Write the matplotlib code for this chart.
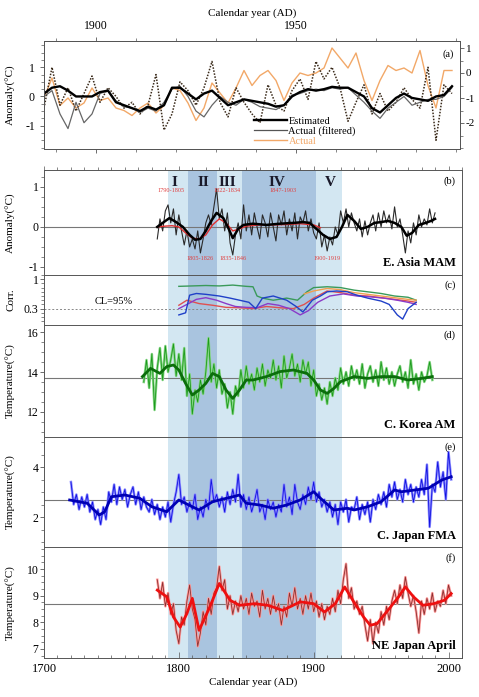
"""
Spring temperature reconstructions for East Asia: 6-panel stack (a)-(f).
"""
import numpy as np
import matplotlib
matplotlib.use("Agg")
import matplotlib.pyplot as plt
from matplotlib.ticker import MultipleLocator
from matplotlib.lines import Line2D

plt.rcParams["font.family"] = ["Liberation Serif", "DejaVu Serif"]
plt.rcParams["font.size"] = 8
plt.rcParams["axes.unicode_minus"] = False

# ── (a) calibration period ───────────────────────────────────────────────────
years_a = np.arange(1887, 1990, 2)
est_a = [0.1, 0.3, 0.35, 0.2, 0.0, 0.0, 0.0, 0.15, 0.2, -0.2,
         -0.3, -0.4, -0.5, -0.35, -0.45, -0.3, 0.3, 0.3, 0.1, -0.1,
         0.1, 0.2, -0.05, -0.3, -0.2, -0.1, -0.15, -0.2, -0.25, -0.35,
         -0.3, 0.0, 0.15, 0.25, 0.2, 0.25, 0.33, 0.3, 0.3, 0.15,
         0.0, -0.4, -0.55, -0.3, -0.05, 0.1, -0.05, -0.1, -0.15, 0.0,
         0.05, 0.35]
filt_a = [0.0, 0.2, -0.6, -1.1, -0.2, -0.9, -0.6, 0.1, 0.2, -0.15,
          -0.35, -0.4, -0.55, -0.4, -0.5, -0.2, 0.25, 0.35, 0.0, -0.5,
          -0.7, -0.3, 0.0, -0.2, -0.3, -0.1, -0.2, -0.35, -0.4, -0.45,
          -0.3, 0.05, 0.1, 0.2, 0.25, 0.2, 0.3, 0.25, 0.3, 0.05,
          -0.2, -0.5, -0.75, -0.4, -0.2, 0.0, -0.3, -0.2, -0.1, -0.1,
          0.0, 0.3]
dot_a = [-0.4, 1.0, -0.3, 0.3, -0.5, 0.1, 0.7, -0.2, 0.3, 0.0,
         -0.4, -0.2, -0.6, -0.3, 0.75, -1.15, -0.6, 0.5, 0.2, -0.3,
         0.3, 1.2, -0.2, -0.7, 0.3, -0.2, -0.6, -0.9, 0.4, -0.3,
         -0.5, 0.2, 0.6, -0.1, 1.2, 0.6, 1.0, 0.3, -0.85, -0.2,
         0.4, -0.6, 0.1, -0.5, -0.2, 0.3, -0.1, -0.4, 1.0, -1.5,
         0.4, 0.1]
actual_a = [-1.0, -0.2, -1.3, -1.0, -1.4, -1.2, -0.6, -1.1, -1.0, -1.4,
            -1.5, -1.7, -1.4, -1.2, -1.6, -1.3, -0.6, -0.7, -1.2, -1.9,
            -1.4, -0.4, -0.8, -1.2, -0.6, 0.1, -0.5, -0.1, 0.1, -0.3,
            -1.1, -0.4, 0.0, -0.1, 0.0, 0.2, 1.0, 0.6, 0.2, 0.8,
            -0.3, -1.1, -0.3, 0.3, 0.1, 0.2, 0.0, 0.9, -0.5, -1.4,
            0.1, 0.1]

# ── (b) E. Asia MAM ──────────────────────────────────────────────────────────
years_b = np.arange(1784, 1991, 2)
easia = [-0.3, 0.2, -0.1, 0.4, 0.55, 0.1, 0.45, -0.2, 0.3, -0.1,
         -0.45, -0.1, -0.5, -0.3, -0.55, -0.1, -0.65, -0.3, 0.1, 0.3,
         0.05, 0.5, 0.95, 0.2, 0.45, -0.1, 0.35, -0.4, -0.7, -0.2,
         0.1, -0.3, 0.55, -0.1, 0.3, -0.2, 0.35, 0.0, -0.3, 0.3,
         0.1, -0.25, 0.35, 0.0, -0.35, 0.3, 0.05, 0.4, -0.2, 0.2,
         -0.1, 0.35, -0.3, 0.25, 0.1, 0.4, -0.1, 0.2, -0.15, -0.3,
         0.1, -0.5, -0.2, -0.6, -0.25, -0.45, 0.0, -0.2, 0.4, 0.1,
         0.45, 0.0, 0.35, 0.1, -0.1, 0.2, -0.25, 0.15, -0.2, 0.1,
         0.3, -0.1, 0.35, 0.0, 0.4, 0.1, 0.3, -0.05, 0.5, 0.0,
         0.2, -0.2, -0.65, -0.1, -0.4, 0.1, -0.2, 0.3, 0.0, 0.2,
         0.05, 0.45, 0.1, 0.35]
years_bs = [1784, 1788, 1793, 1798, 1803, 1808, 1812, 1816, 1820, 1824, 1828,
            1833, 1837, 1840, 1844, 1848, 1855, 1865, 1875, 1885, 1892, 1897,
            1902, 1907, 1912, 1917, 1921, 1925, 1930, 1935, 1940, 1945, 1950,
            1955, 1960, 1965, 1969, 1973, 1978, 1983, 1987, 1990]
easia_s = [0.0, 0.1, 0.22, 0.12, 0.0, -0.2, -0.32, -0.3, -0.1, 0.15, 0.35,
           0.22, -0.05, -0.28, -0.05, 0.05, 0.08, 0.05, 0.08, 0.1, 0.12, 0.1,
           -0.05, -0.2, -0.3, -0.25, 0.0, 0.3, 0.15, -0.05, 0.0, 0.1, 0.12,
           0.15, 0.1, 0.0, -0.22, -0.15, 0.05, 0.1, 0.15, 0.2]
years_br = [1784, 1790, 1795, 1800, 1805, 1810, 1815, 1820, 1825, 1830, 1835,
            1840, 1845, 1850, 1860, 1870, 1880, 1890, 1900, 1905]
easia_red = [0.0, 0.02, 0.03, 0.0, -0.15, -0.28, -0.3, -0.2, 0.05, 0.2, 0.1,
             -0.1, -0.05, 0.02, 0.05, 0.05, 0.06, 0.08, 0.05, -0.02]

periods = [(1792, 1807, "light"), (1807, 1828, "dark"), (1828, 1847, "light"),
           (1847, 1902, "dark"), (1902, 1921, "light")]
roman = ["I", "II", "III", "IV", "V"]
roman_x = [1797, 1818, 1836, 1873, 1912]
warm_labels = ["1790-1805", "1822-1834", "1847-1903"]
warm_x = [1794, 1836, 1877]
cool_labels = ["1805-1826", "1835-1846", "1900-1919"]
cool_x = [1816, 1840, 1910]

# ── (c) running correlations ─────────────────────────────────────────────────
yr_c_green = [1800, 1810, 1820, 1830, 1840, 1850, 1855, 1858, 1862, 1870, 1880,
              1888, 1895, 1900, 1910, 1920, 1930, 1940, 1950, 1960, 1970, 1976]
c_green = [0.83, 0.84, 0.85, 0.84, 0.86, 0.83, 0.82, 0.6, 0.55, 0.5, 0.55,
           0.5, 0.7, 0.8, 0.82, 0.8, 0.74, 0.7, 0.66, 0.6, 0.57, 0.5]
yr_c_blue = [1800, 1805, 1808, 1813, 1820, 1830, 1838, 1845, 1852, 1857, 1862,
             1870, 1880, 1887, 1892, 1899, 1905, 1910, 1917, 1925, 1932, 1940,
             1950, 1956, 1962, 1966, 1970, 1976]
c_blue = [0.15, 0.2, 0.62, 0.66, 0.64, 0.6, 0.55, 0.5, 0.45, 0.3, 0.55,
          0.6, 0.5, 0.35, 0.22, 0.5, 0.6, 0.7, 0.72, 0.7, 0.62, 0.55,
          0.48, 0.4, 0.15, 0.05, 0.3, 0.45]
yr_c_purple = [1800, 1806, 1813, 1820, 1828, 1835, 1842, 1850, 1858, 1866, 1874,
               1882, 1890, 1896, 1903, 1912, 1922, 1932, 1942, 1952, 1962, 1970,
               1976]
c_purple = [0.3, 0.4, 0.52, 0.56, 0.5, 0.42, 0.35, 0.33, 0.32, 0.42, 0.38,
            0.3, 0.15, 0.25, 0.45, 0.6, 0.65, 0.6, 0.58, 0.55, 0.5, 0.45, 0.4]
yr_c_red = [1800, 1806, 1815, 1825, 1835, 1845, 1855, 1865, 1875, 1885, 1893,
            1900, 1910, 1920, 1930, 1940, 1950, 1960, 1970, 1976]
c_red = [0.38, 0.5, 0.42, 0.38, 0.33, 0.32, 0.3, 0.35, 0.32, 0.3, 0.4,
         0.55, 0.72, 0.68, 0.62, 0.6, 0.56, 0.52, 0.48, 0.45]
yr_c_orange = [1893, 1900, 1910, 1920, 1930, 1940, 1950, 1960, 1970, 1976]
c_orange = [0.65, 0.72, 0.78, 0.75, 0.68, 0.64, 0.6, 0.56, 0.52, 0.5]

# ── (d) C. Korea AM ──────────────────────────────────────────────────────────
years_d = np.arange(1774, 1989, 2)
korea = [13.5, 14.6, 13.2, 14.9, 12.1, 14.2, 15.2, 13.6, 15.3, 14.0,
         14.6, 15.4, 13.8, 14.9, 13.6, 15.2, 12.8, 13.9, 11.9, 13.1,
         12.5, 13.6, 12.9, 14.0, 15.7, 13.5, 14.4, 13.2, 14.1, 12.9,
         13.4, 12.2, 13.0, 11.9, 13.3, 12.8, 14.1, 13.2, 14.3, 13.4,
         13.9, 13.1, 14.2, 13.5, 14.4, 13.3, 14.1, 13.7, 14.6, 13.6,
         14.3, 13.2, 14.8, 13.7, 14.2, 14.9, 13.8, 14.4, 13.5, 14.6,
         13.9, 14.5, 13.3, 14.1, 12.8, 13.4, 12.6, 13.2, 12.4, 13.5,
         12.8, 13.7, 13.1, 14.2, 13.4, 14.0, 13.3, 14.3, 13.6, 14.1,
         13.4, 14.4, 13.2, 13.9, 14.3, 13.5, 14.1, 13.3, 14.5, 13.6,
         14.2, 13.4, 14.0, 13.3, 13.9, 14.3, 13.5, 14.0, 13.2, 14.6,
         13.4, 13.9, 13.1, 14.0, 13.5, 13.8, 14.5, 13.6]
years_ds = [1773, 1779, 1786, 1791, 1796, 1800, 1805, 1810, 1815, 1820, 1825,
            1830, 1835, 1840, 1845, 1850, 1855, 1865, 1875, 1885, 1895, 1900,
            1905, 1910, 1915, 1920, 1930, 1940, 1950, 1960, 1970, 1980, 1988]
korea_s = [13.77, 14.18, 13.93, 14.27, 14.35, 14.1, 13.43, 12.85, 13.1, 13.43,
           13.93, 13.77, 13.1, 12.68, 13.1, 13.6, 13.6, 13.77, 14.02, 14.1,
           13.93, 13.6, 13.1, 12.93, 13.18, 13.52, 13.77, 13.68, 13.77, 13.77,
           13.6, 13.68, 13.77]

# ── (e) C. Japan FMA ─────────────────────────────────────────────────────────
years_e = np.arange(1720, 2003, 2)
japan = [3.4, 2.5, 2.9, 2.3, 2.8, 2.4, 2.9, 2.2, 2.6, 1.9,
         2.3, 1.7, 2.4, 1.9, 3.0, 2.6, 3.3, 2.5, 3.2, 2.7,
         3.1, 2.4, 2.9, 3.2, 2.5, 3.0, 2.3, 2.8, 2.4, 2.2,
         2.7, 2.1, 2.5, 1.9, 2.4, 2.0, 2.6, 1.8, 2.5, 3.0,
         3.7, 2.5, 2.8, 2.2, 2.6, 2.3, 2.9, 1.9, 2.4, 2.0,
         2.7, 2.3, 3.5, 2.6, 2.9, 2.4, 2.8, 2.2, 3.0, 2.5,
         3.1, 2.6, 3.7, 2.4, 2.9, 2.3, 2.8, 2.2, 2.6, 3.1,
         2.2, 2.5, 1.9, 2.7, 2.3, 2.6, 2.0, 2.5, 2.2, 3.3,
         2.4, 2.8, 2.1, 3.3, 2.6, 2.3, 2.9, 2.5, 3.2, 2.7,
         3.4, 2.6, 3.0, 2.4, 2.7, 2.2, 2.6, 2.0, 2.5, 1.7,
         2.6, 2.2, 2.7, 1.8, 2.4, 2.3, 2.8, 1.9, 2.5, 2.1,
         2.6, 1.8, 2.7, 2.3, 2.9, 2.5, 3.0, 2.4, 3.3, 2.8,
         3.4, 2.7, 3.1, 2.6, 3.5, 2.9, 3.3, 2.6, 3.2, 2.8,
         3.5, 2.9, 4.1, 1.6, 3.3, 3.0, 4.2, 3.2, 3.8, 2.7,
         4.6, 3.5]
years_es = [1719, 1732, 1741, 1745, 1750, 1760, 1771, 1780, 1791, 1800, 1810,
            1815, 1825, 1830, 1840, 1845, 1850, 1860, 1870, 1880, 1890, 1900,
            1905, 1915, 1925, 1930, 1940, 1950, 1960, 1965, 1975, 1985, 1995,
            2002]
japan_s = [2.68, 2.55, 2.08, 2.21, 2.81, 2.88, 2.75, 2.41, 2.21, 2.68, 2.41,
           2.28, 2.61, 2.68, 2.81, 2.88, 2.55, 2.48, 2.35, 2.48, 2.68, 3.01,
           2.75, 2.28, 2.35, 2.28, 2.41, 2.61, 3.08, 3.01, 3.08, 3.15, 3.48,
           3.61]

# ── (f) NE Japan April ───────────────────────────────────────────────────────
years_f = np.arange(1784, 2003, 2)
nejapan = [9.6, 8.9, 9.5, 8.6, 9.1, 8.3, 8.7, 7.7, 7.2, 8.2,
           7.9, 8.8, 9.4, 8.5, 8.1, 7.1, 7.6, 8.4, 7.9, 8.9,
           8.3, 9.1, 9.3, 10.1, 9.2, 9.6, 8.5, 9.0, 8.3, 8.8,
           8.4, 9.0, 8.5, 8.9, 8.3, 9.1, 8.6, 8.8, 8.2, 9.2,
           8.5, 8.9, 8.3, 9.0, 8.4, 8.7, 7.9, 8.6, 8.2, 9.1,
           8.6, 9.3, 8.5, 8.9, 8.3, 9.0, 8.5, 9.1, 8.4, 8.8,
           8.2, 8.7, 8.1, 8.6, 8.3, 8.9, 8.4, 9.2, 8.7, 9.6,
           10.2, 8.9, 9.3, 8.5, 8.8, 8.3, 8.6, 7.9, 7.3, 8.1,
           7.2, 8.0, 7.6, 8.4, 7.9, 8.6, 8.1, 8.8, 9.2, 8.7,
           9.4, 8.9, 9.7, 9.1, 8.6, 9.0, 8.4, 7.6, 8.8, 8.3,
           8.9, 8.5, 9.1, 8.4, 8.8, 8.6, 9.2, 8.7, 9.4, 9.0]
years_fs = [1784, 1791, 1796, 1801, 1806, 1810, 1815, 1823, 1830, 1838, 1845,
            1856, 1866, 1877, 1890, 1900, 1908, 1916, 1923, 1929, 1937, 1942,
            1947, 1955, 1963, 1968, 1974, 1981, 1989, 1997, 2002]
nejapan_s = [9.21, 8.96, 8.2, 7.82, 8.33, 8.9, 7.7, 8.58, 9.46, 8.83, 8.64,
             8.7, 8.64, 8.45, 8.77, 8.7, 8.39, 8.7, 9.33, 8.83, 8.2, 7.89,
             7.95, 8.45, 8.96, 9.33, 8.96, 8.64, 8.7, 8.83, 9.08]

mean_lines = {"d": 13.7, "e": 2.68, "f": 8.68}

# ── Figure ───────────────────────────────────────────────────────────────────
fig = plt.figure(figsize=(4.79, 6.97), dpi=100)
W = 479.0
H = 697.0


def px_axes(left, right, top, bottom):
    return fig.add_axes([left / W, 1 - bottom / H, (right - left) / W, (bottom - top) / H])


SPINE = "#555555"
LIGHT = "#d3e7f2"
DARK = "#a9c4df"
TLAB = 8.5

# (a)
ax_a = px_axes(44, 460, 41, 149)
ax_a2 = ax_a.twinx()
ax_a.set_zorder(ax_a2.get_zorder() + 1)
ax_a.patch.set_visible(False)
ax_a2.plot(years_a, actual_a, color="#f2a868", lw=1.0)
ax_a.plot(years_a, dot_a, color="#3a2a1a", lw=1.1, ls=(0, (1, 1)))
ax_a.plot(years_a, filt_a, color="#666666", lw=0.9)
ax_a.plot(years_a, est_a, color="k", lw=1.7)
ax_a.set_xlim(1887, 1991)
ax_a.set_ylim(-1.8, 1.9)
ax_a2.set_ylim(-3.04, 1.28)
ax_a.set_yticks([-1, 0, 1])
ax_a.yaxis.set_minor_locator(MultipleLocator(0.25))
ax_a2.set_yticks([-2, -1, 0, 1])
ax_a2.yaxis.set_minor_locator(MultipleLocator(0.5))
ax_a.xaxis.set_ticks_position("both")
ax_a.xaxis.set_label_position("top")
ax_a.tick_params(axis="x", which="both", top=True, labeltop=True,
                 bottom=True, labelbottom=False, direction="out")
ax_a.set_xticks([1900, 1950])
ax_a.xaxis.set_minor_locator(MultipleLocator(10))
ax_a.set_xlabel("Calendar year (AD)", fontsize=8, labelpad=3)
ax_a.set_ylabel("Anomaly(°C)", fontsize=8, labelpad=2)
for a in (ax_a, ax_a2):
    a.tick_params(labelsize=TLAB, length=3, width=0.6, color=SPINE)
    a.tick_params(which="minor", length=2, width=0.5, color=SPINE)
    for s in a.spines.values():
        s.set_color(SPINE)
        s.set_linewidth(0.7)
ax_a2.tick_params(axis="y", labelsize=8, pad=1)
ax_a.text(0.985, 0.92, "(a)", transform=ax_a.transAxes, ha="right", va="top", fontsize=7.5)
handles = [Line2D([], [], color="k", lw=1.7),
           Line2D([], [], color="#555555", lw=0.9),
           Line2D([], [], color="#f2a868", lw=1.0)]
ax_a.legend(handles, ["Estimated", "Actual (filtered)", "Actual"],
            loc="upper left", bbox_to_anchor=(0.49, 0.36), frameon=False,
            fontsize=7.5, handlelength=3.2, labelspacing=0.05, handletextpad=0.1,
            borderpad=0.1, labelcolor=["k", "k", "#f2a868"])

# stacked panels (b)-(f)
rows = [(170, 275), (275, 325), (325, 437), (437, 547), (547, 658)]
axes = [px_axes(44, 462, t, b) for t, b in rows]
ax_b, ax_c, ax_d, ax_e, ax_f = axes

for ax in axes:
    for start, end, shade in periods:
        ax.axvspan(start, end, color=LIGHT if shade == "light" else DARK, lw=0, zorder=0)
    ax.set_xlim(1700, 2010)
    ax.xaxis.set_major_locator(MultipleLocator(100))
    ax.xaxis.set_minor_locator(MultipleLocator(10))
    ax.tick_params(axis="x", which="both", bottom=False, labelbottom=False)
    ax.tick_params(axis="y", labelsize=TLAB, length=3, width=0.6, color=SPINE, pad=1)
    ax.tick_params(axis="y", which="minor", length=2, width=0.5, color=SPINE)
    for s in ax.spines.values():
        s.set_color(SPINE)
        s.set_linewidth(0.7)

ax_b.tick_params(axis="x", which="both", top=True, direction="out",
                 length=3, width=0.5, color=SPINE)
ax_b.tick_params(axis="x", which="minor", length=2)
ax_f.tick_params(axis="x", which="both", bottom=True, labelbottom=True,
                 direction="in", labelsize=TLAB + 0.5, color=SPINE, width=0.5)
ax_f.tick_params(axis="x", which="major", length=4)
ax_f.tick_params(axis="x", which="minor", length=2.5)
ax_f.set_xlabel("Calendar year (AD)", fontsize=8, labelpad=2)

# (b)
ax_b.axhline(0, color="#777777", lw=0.8, zorder=1)
ax_b.plot(years_b, easia, color="#2a2a2a", lw=0.8, zorder=2)
ax_b.plot(years_br, easia_red, color="#e03030", lw=1.0, zorder=3)
ax_b.plot(years_bs, easia_s, color="k", lw=1.8, zorder=4)
ax_b.set_ylim(-1.2, 1.42)
ax_b.set_yticks([-1, 0, 1])
ax_b.yaxis.set_minor_locator(MultipleLocator(0.25))
ax_b.set_ylabel("Anomaly(°C)", fontsize=8, labelpad=2)
for lab, x in zip(roman, roman_x):
    ax_b.text(x, 1.12, lab, ha="center", va="center", fontsize=11, fontweight="bold", color="#1a1a2a")
for lab, x in zip(warm_labels, warm_x):
    ax_b.text(x, 0.9, lab, ha="center", va="center", fontsize=4.5, color="#e04040")
for lab, x in zip(cool_labels, cool_x):
    ax_b.text(x, -0.8, lab, ha="center", va="center", fontsize=4.5, color="#e04040")
ax_b.text(0.985, 0.94, "(b)", transform=ax_b.transAxes, ha="right", va="top", fontsize=7.5)
ax_b.text(0.985, 0.06, "E. Asia MAM", transform=ax_b.transAxes, ha="right", va="bottom",
          fontsize=9, fontweight="bold")

# (c)
ax_c.axhline(0.3, color="#888888", lw=0.7, ls=(0, (2, 2)), zorder=1)
ax_c.plot(yr_c_green, c_green, color="#3a9a5a", lw=1.0)
ax_c.plot(yr_c_orange, c_orange, color="#f0a050", lw=1.0)
ax_c.plot(yr_c_red, c_red, color="#e05050", lw=1.0)
ax_c.plot(yr_c_purple, c_purple, color="#8a3ac8", lw=1.0)
ax_c.plot(yr_c_blue, c_blue, color="#2040c8", lw=1.0)
ax_c.set_ylim(-0.09, 1.1)
ax_c.set_yticks([0.3, 1])
ax_c.set_yticklabels(["0.3", "1"])
ax_c.yaxis.set_minor_locator(MultipleLocator(0.1))
ax_c.set_ylabel("Corr.", fontsize=8, labelpad=2)
ax_c.text(1752, 0.36, "CL=95%", ha="center", va="bottom", fontsize=7.5)
ax_c.text(0.985, 0.9, "(c)", transform=ax_c.transAxes, ha="right", va="top", fontsize=7.5)

# (d)-(f)
series = [
    (ax_d, years_d, korea, years_ds, korea_s, "#86d686", "#1c9a1c", "#0b6e0b",
     (10.75, 16.35), [12, 14, 16], 0.5, "(d)", "C. Korea AM", mean_lines["d"]),
    (ax_e, years_e, japan, years_es, japan_s, "#8c8cff", "#1010e0", "#0000b4",
     (0.8, 5.2), [2, 4], 0.5, "(e)", "C. Japan FMA", mean_lines["e"]),
    (ax_f, years_f, nejapan, years_fs, nejapan_s, "#ff9a9a", "#8a3030", "#ee1010",
     (6.66, 10.83), [7, 8, 9, 10], 0.25, "(f)", "NE Japan April", mean_lines["f"]),
]
for ax, yr, vals, yr_s, vals_s, c_light, c_thin, c_smooth, ylim, yt, minor, tag, name, mline in series:
    ax.axhline(mline, color="#777777", lw=0.8, zorder=1)
    ax.plot(yr, vals, color=c_light, lw=1.8, zorder=2)
    ax.plot(yr, vals, color=c_thin, lw=0.6, zorder=3)
    ax.plot(yr_s, vals_s, color=c_smooth, lw=2.0, zorder=4)
    ax.set_ylim(*ylim)
    ax.set_yticks(yt)
    ax.yaxis.set_minor_locator(MultipleLocator(minor))
    ax.set_ylabel("Temperature(°C)", fontsize=8, labelpad=2)
    ax.text(0.985, 0.95, tag, transform=ax.transAxes, ha="right", va="top", fontsize=7.5)
    ax.text(0.985, 0.05, name, transform=ax.transAxes, ha="right", va="bottom",
            fontsize=9, fontweight="bold")

for ax in (ax_a, ax_b, ax_c, ax_d, ax_e, ax_f):
    ax.yaxis.set_label_coords(-0.068, 0.5)

fig.savefig("out.png", dpi=100)
